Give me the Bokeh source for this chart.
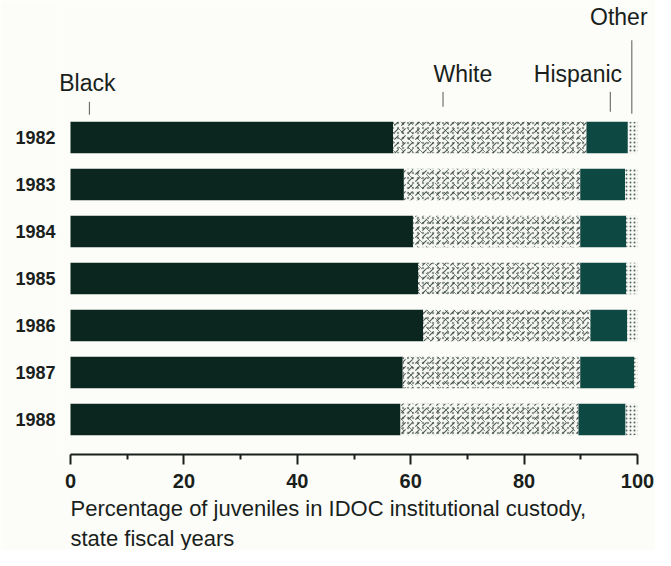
from bokeh.plotting import figure
from bokeh.models import Range1d, FixedTicker, Title, ColumnDataSource, LabelSet
from bokeh.core.properties import value
from bokeh.embed import file_html
from bokeh.resources import INLINE

# ---- data (percent of juveniles in IDOC institutional custody) ----
years = ["1982", "1983", "1984", "1985", "1986", "1987", "1988"]
black = [56.9, 58.8, 60.4, 61.3, 62.2, 58.6, 58.2]
white = [34.1, 31.1, 29.5, 28.6, 29.5, 31.3, 31.4]
hispanic = [7.3, 7.9, 8.1, 8.1, 6.5, 9.5, 8.3]
other = [1.7, 2.2, 2.0, 2.0, 1.8, 0.6, 2.1]

groups = ["Black", "White", "Hispanic", "Other"]
x_major = [0, 20, 40, 60, 80, 100]
x_minor = [10, 30, 50, 70, 90]
axis_title_1 = "Percentage of juveniles in IDOC institutional custody,"
axis_title_2 = "state fiscal years"

FONT = "Liberation Sans"
BG = "#fcfcf8"
C_BLACK = "#0a261f"
C_HISP = "#0d4842"
INK = "#1a1f1c"

# ---- cumulative bounds ----
pos = list(range(len(years)))
w_end = [b + w for b, w in zip(black, white)]
h_end = [a + h for a, h in zip(w_end, hispanic)]
o_end = [a + o for a, o in zip(h_end, other)]
src = ColumnDataSource(dict(y=pos, zero=[0] * len(pos), b=black, w=w_end, h=h_end, o=o_end))

# layout helpers (figure pixels -> data) for the annotation placement
PX_PER_ROW = 47.3
ROW0_PX = 138.0
def ry(px):
    return (px - ROW0_PX) / PX_PER_ROW
FRAME_LEFT = 58
ZERO_PX = 70
PX_PER_PCT = 5.67

W, H = 655, 550
FRAME_BOTTOM = 457
p = figure(width=W, height=H, output_backend="svg", toolbar_location=None,
           x_range=Range1d(-(ZERO_PX - FRAME_LEFT) / PX_PER_PCT, (W - ZERO_PX) / PX_PER_PCT),
           y_range=Range1d(ry(FRAME_BOTTOM), ry(0)),
           min_border_left=FRAME_LEFT, min_border_right=0, min_border_top=0,
           min_border_bottom=H - FRAME_BOTTOM)
p.background_fill_color = BG
p.border_fill_color = BG
p.outline_line_color = None
p.grid.visible = False

BH = 0.67
p.hbar(y="y", left="zero", right="b", height=BH, source=src, fill_color=C_BLACK, line_color=None)
# speckled "White" segment: a few overlaid hatch layers to mimic the random stipple
p.hbar(y="y", left="b", right="w", height=BH, source=src, fill_color="#f7f8f3", line_color=None,
       hatch_pattern="right_diagonal_dash", hatch_color="#24332e", hatch_scale=7, hatch_weight=1.1,
       hatch_alpha=0.8)
p.hbar(y="y", left="b", right="w", height=BH, source=src, fill_alpha=0, line_color=None,
       hatch_pattern="left_diagonal_dash", hatch_color="#2a3a35", hatch_scale=9, hatch_weight=1.0,
       hatch_alpha=0.6)
p.hbar(y="y", left="b", right="w", height=BH, source=src, fill_alpha=0, line_color=None,
       hatch_pattern="dot", hatch_color="#2a3a35", hatch_scale=5, hatch_weight=1.0,
       hatch_alpha=0.5)
p.hbar(y="y", left="w", right="h", height=BH, source=src, fill_color=C_HISP, line_color=None)
p.hbar(y="y", left="h", right="o", height=BH, source=src, fill_color="#f7f8f4", line_color=None,
       hatch_pattern="dot", hatch_color="#556660", hatch_scale=4, hatch_weight=1.2)

# ---- group labels above the bars ----
lab_src = ColumnDataSource(dict(
    x=[2.98, 69.2, 89.5, 96.7],
    y=[ry(91), ry(82), ry(82), ry(25)],
    text=groups))
p.add_layout(LabelSet(x="x", y="y", text="text", source=lab_src, text_font=value(FONT),
                      text_font_size="23px", text_align="center", text_baseline="alphabetic",
                      text_color=INK))
tick_x = [3.33, 65.7, 95.2, 99.0]
tick_y0 = [ry(102), ry(92), ry(92), ry(40)]
tick_y1 = [ry(115), ry(107), ry(112), ry(114)]
p.segment(x0=tick_x, y0=tick_y0, x1=tick_x, y1=tick_y1, line_color="#555a57", line_width=1)

# ---- axes ----
xa = p.xaxis[0]
xa.bounds = (0, 100)
xa.ticker = FixedTicker(ticks=x_major, minor_ticks=x_minor)
xa.axis_line_width = 2
xa.axis_line_color = INK
xa.major_tick_line_color = INK
xa.major_tick_line_width = 2
xa.minor_tick_line_color = INK
xa.minor_tick_line_width = 2
xa.major_tick_in = 0
xa.major_tick_out = 10
xa.minor_tick_in = 0
xa.minor_tick_out = 5
xa.major_label_standoff = 9
xa.major_label_text_font = FONT
xa.major_label_text_font_size = "20px"
xa.major_label_text_font_style = "bold"
xa.major_label_text_color = INK

ya = p.yaxis[0]
ya.ticker = FixedTicker(ticks=pos, minor_ticks=[])
ya.major_label_overrides = {i: y for i, y in zip(pos, years)}
ya.axis_line_color = None
ya.major_tick_line_color = None
ya.major_tick_in = 0
ya.major_tick_out = 0
ya.major_label_standoff = 3
ya.major_label_text_font = FONT
ya.major_label_text_font_size = "18px"
ya.major_label_text_font_style = "bold"
ya.major_label_text_color = INK

t1 = Title(text=axis_title_1, align="left", text_font=FONT, text_font_size="22px",
           text_font_style="normal", text_color=INK, standoff=6, offset=ZERO_PX - FRAME_LEFT)
t2 = Title(text=axis_title_2, align="left", text_font=FONT, text_font_size="22px",
           text_font_style="normal", text_color=INK, standoff=0, offset=ZERO_PX - FRAME_LEFT)
p.add_layout(t1, "below")
p.add_layout(t2, "below")

open("out.html", "w").write(file_html(p, INLINE))
